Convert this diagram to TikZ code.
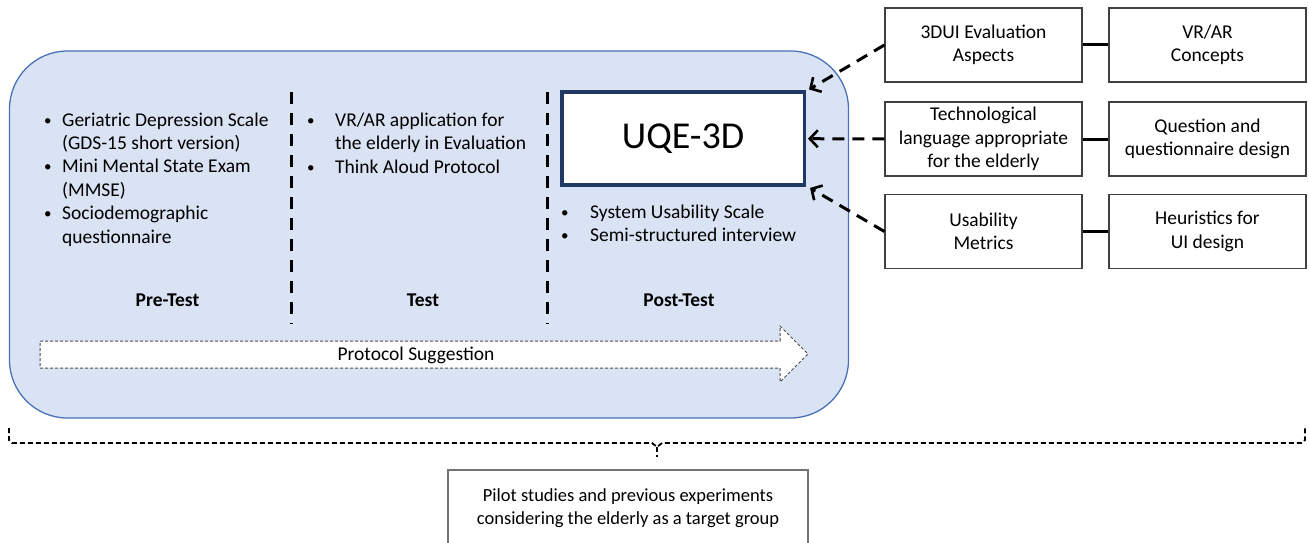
\documentclass[tikz,border=0pt]{standalone}
\usepackage{fontspec}
\setmainfont{Carlito}
\usetikzlibrary{arrows.meta}
\definecolor{panelfill}{HTML}{DAE3F3}
\definecolor{panelline}{HTML}{4A72B8}
\definecolor{navy}{HTML}{1F3864}
\definecolor{boxline}{HTML}{404040}
\newcommand\bul[1]{\makebox[#1][l]{\raisebox{1pt}{\fontsize{15}{15}\selectfont\textbullet}}}
\begin{document}
\begin{tikzpicture}[x=1pt,y=-1pt,
  txt/.style={font=\fontsize{19.5}{23.4}\selectfont, inner sep=0pt},
  phase/.style={font=\bfseries\fontsize{19.5}{23.4}\selectfont, inner sep=0pt, anchor=base},
  topic/.style={draw=boxline, line width=1.2pt, fill=white, minimum width=197pt,
    minimum height=74pt, align=center, inner sep=2pt,
    font=\fontsize{19.5}{23.5}\selectfont},
  divider/.style={line width=3pt, dash pattern=on 12pt off 9pt},
  link/.style={line width=3pt},
  feed/.style={line width=3pt, dash pattern=on 12pt off 8pt,
    -{Straight Barb[length=8pt,width=17pt,line width=2.6pt]}},
  brace/.style={line width=1.8pt, dash pattern=on 5pt off 3pt}]
\clip (0,0) rectangle (1309,543);
\fill[white] (0,0) rectangle (1309,543);

% protocol panel
\node[draw=panelline, line width=1.3pt, fill=panelfill, rounded corners=58pt,
  minimum width=839pt, minimum height=367pt, inner sep=0pt] (panel) at (429,234.5) {};

% phase dividers
\coordinate (d1t) at (291,92);  \coordinate (d1b) at (291,324);
\coordinate (d2t) at (547,92);  \coordinate (d2b) at (547,324);
\draw[divider] (d1t) -- (d1b);
\draw[divider] (d2t) -- (d2b);

% pre-test instruments
\node[txt, anchor=base west] (pre) at (44,126) {%
  \begin{tabular}[t]{@{}l@{}l@{}}
  \bul{18pt} & Geriatric Depression Scale\\
             & (GDS-15 short version)\\
  \bul{18pt} & Mini Mental State Exam\\
             & (MMSE)\\
  \bul{18pt} & Sociodemographic\\
             & questionnaire
  \end{tabular}};

% test instruments
\node[txt, anchor=base west] (test) at (307,126.5) {%
  \begin{tabular}[t]{@{}l@{}l@{}}
  \bul{28pt} & VR/AR application for\\
             & the elderly in Evaluation\\
  \bul{28pt} & Think Aloud Protocol
  \end{tabular}};

% post-test instruments
\node[txt, anchor=base west] (post) at (561,218.5) {%
  \begin{tabular}[t]{@{}l@{}l@{}}
  \bul{29pt} & System Usability Scale\\
  \bul{29pt} & Semi-structured interview
  \end{tabular}};

% phase titles
\node[phase] (pretitle) at (167.5,306) {Pre-Test};
\node[phase] (testtitle) at (423,306) {Test};
\node[phase] (posttitle) at (679,306) {Post-Test};

% questionnaire
\node[draw=navy, line width=3.5pt, fill=white, minimum width=242.5pt,
  minimum height=93pt, inner sep=0pt, font=\fontsize{38}{44}\selectfont]
  (uqe) at (683,138.7) {UQE-3D};

% protocol suggestion arrow
\coordinate (a1) at (40,341);  \coordinate (a2) at (780,341);
\coordinate (a3) at (780,326); \coordinate (a4) at (808,354);
\coordinate (a5) at (780,382); \coordinate (a6) at (780,368);
\coordinate (a7) at (40,368);
\draw[fill=white, draw=black!70, line width=1pt, dash pattern=on 3pt off 2pt]
  (a1) -- (a2) -- (a3) -- (a4) -- (a5) -- (a6) -- (a7) -- cycle;
\node[txt, anchor=base] (protocol) at (416,360) {Protocol Suggestion};

% foundations
\node[topic] (t1) at (983.5,45)   {3DUI Evaluation\\Aspects};
\node[topic] (c1) at (1207.5,45)  {VR/AR\\Concepts};
\node[topic] (t2) at (983.5,139)  {Technological\\language appropriate\\for the elderly};
\node[topic] (c2) at (1207.5,139) {Question and\\questionnaire design};
\node[topic] (t3) at (983.5,231.5)  {Usability\\Metrics};
\node[topic] (c3) at (1207.5,231.5) {Heuristics for\\UI design};

\draw[link] (t1.east) -- (c1.west);
\draw[link] (t2.east) -- (c2.west);
\draw[link] (t3.east) -- (c3.west);

\draw[feed] (t1.west) -- ([xshift=3pt,yshift=1pt]uqe.north east);
\draw[feed] (t2.west) -- ([xshift=2pt]uqe.east);
\draw[feed] (t3.west) -- ([xshift=4pt,yshift=-1pt]uqe.south east);

% grouping brace
\coordinate (bl) at (9,428);    \coordinate (blc) at (9,440);
\coordinate (bls) at (12,443);  \coordinate (bml) at (652,443);
\coordinate (bm) at (657,447);  \coordinate (bmr) at (662,443);
\coordinate (brs) at (1302,443); \coordinate (brc) at (1305,440);
\coordinate (br) at (1305,428); \coordinate (bt) at (657,457);
\draw[brace] (bl) -- (blc) -- (bls) -- (bml) -- (bm) -- (bmr) -- (brs) -- (brc) -- (br);
\draw[brace] (bm) -- (bt);

% pilot studies
\node[draw=black!55, line width=1.5pt, fill=white, minimum width=360pt,
  minimum height=76pt, align=center, inner sep=0pt,
  font=\fontsize{18.5}{23.5}\selectfont] (pilot) at (628,508)
  {Pilot studies and previous experiments\\considering the elderly as a target group};
\end{tikzpicture}
\end{document}
